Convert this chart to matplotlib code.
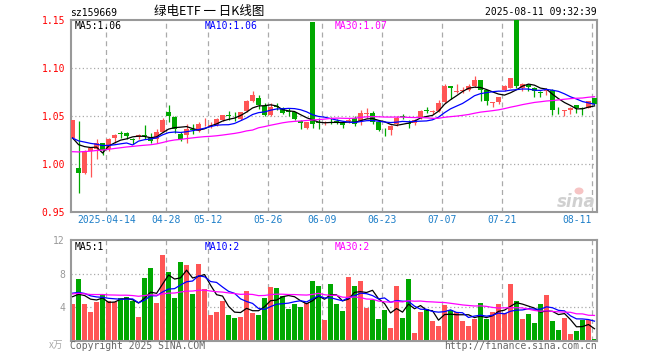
import matplotlib
matplotlib.use('Agg')
import matplotlib.pyplot as plt
from matplotlib.patches import Ellipse
import numpy as np
import pandas as pd

# daily candles 2025-04-03 .. 2025-08-11 (88 trading days)
opens = [1.0267, 0.9961, 0.9909, 1.0135, 1.0160, 1.0215, 1.0160, 1.0267, 1.0319, 1.0319,
         1.0257, 1.0281, 1.0298, 1.0274, 1.0264, 1.0333, 1.0545, 1.0489, 1.0309, 1.0298,
         1.0361, 1.0347, 1.0425, 1.0400, 1.0410, 1.0456, 1.0510, 1.0500, 1.0469, 1.0549,
         1.0653, 1.0687, 1.0608, 1.0514, 1.0600, 1.0583, 1.0550, 1.0538, 1.0451, 1.0375,
         1.1475, 1.0435, 1.0428, 1.0450, 1.0445, 1.0440, 1.0445, 1.0478, 1.0443, 1.0520,
         1.0530, 1.0433, 1.0357, 1.0357, 1.0419, 1.0498, 1.0425, 1.0425, 1.0478, 1.0560,
         1.0545, 1.0555, 1.0645, 1.0809, 1.0755, 1.0760, 1.0774, 1.0808, 1.0871, 1.0767,
         1.0640, 1.0642, 1.0770, 1.0792, 1.1500, 1.0792, 1.0823, 1.0795, 1.0754, 1.0760,
         1.0775, 1.0575, 1.0552, 1.0567, 1.0612, 1.0588, 1.0588, 1.0689]
highs = [1.0460, 1.0451, 1.0145, 1.0165, 1.0257, 1.0218, 1.0268, 1.0316, 1.0344, 1.0330,
         1.0274, 1.0312, 1.0403, 1.0320, 1.0361, 1.0478, 1.0617, 1.0495, 1.0330, 1.0413,
         1.0413, 1.0441, 1.0479, 1.0440, 1.0475, 1.0510, 1.0550, 1.0545, 1.0545, 1.0670,
         1.0764, 1.0722, 1.0635, 1.0635, 1.0635, 1.0590, 1.0583, 1.0545, 1.0455, 1.0440,
         1.1475, 1.0478, 1.0450, 1.0490, 1.0470, 1.0445, 1.0480, 1.0495, 1.0565, 1.0582,
         1.0547, 1.0440, 1.0375, 1.0410, 1.0495, 1.0520, 1.0455, 1.0470, 1.0560, 1.0590,
         1.0565, 1.0668, 1.0830, 1.0815, 1.0838, 1.0800, 1.0830, 1.0913, 1.0875, 1.0770,
         1.0650, 1.0700, 1.0825, 1.0900, 1.1500, 1.0845, 1.0830, 1.0800, 1.0760, 1.0790,
         1.0780, 1.0590, 1.0560, 1.0590, 1.0612, 1.0590, 1.0660, 1.0692]
lows = [1.0260, 0.9694, 0.9895, 0.9860, 1.0049, 1.0097, 1.0140, 1.0222, 1.0274, 1.0257,
        1.0205, 1.0257, 1.0257, 1.0222, 1.0222, 1.0330, 1.0441, 1.0320, 1.0240, 1.0222,
        1.0309, 1.0330, 1.0392, 1.0370, 1.0400, 1.0450, 1.0460, 1.0450, 1.0460, 1.0540,
        1.0650, 1.0576, 1.0497, 1.0500, 1.0565, 1.0520, 1.0503, 1.0462, 1.0365, 1.0365,
        1.0375, 1.0363, 1.0410, 1.0420, 1.0420, 1.0380, 1.0430, 1.0400, 1.0410, 1.0480,
        1.0420, 1.0340, 1.0288, 1.0300, 1.0400, 1.0465, 1.0375, 1.0410, 1.0470, 1.0530,
        1.0520, 1.0545, 1.0640, 1.0677, 1.0740, 1.0740, 1.0760, 1.0800, 1.0652, 1.0617,
        1.0590, 1.0620, 1.0765, 1.0790, 1.0790, 1.0760, 1.0760, 1.0700, 1.0700, 1.0720,
        1.0512, 1.0525, 1.0505, 1.0525, 1.0536, 1.0515, 1.0585, 1.0610]
closes = [1.0454, 0.9902, 1.0139, 1.0163, 1.0222, 1.0146, 1.0264, 1.0302, 1.0309, 1.0288,
          1.0250, 1.0302, 1.0288, 1.0240, 1.0333, 1.0461, 1.0496, 1.0364, 1.0264, 1.0364,
          1.0357, 1.0417, 1.0432, 1.0410, 1.0472, 1.0507, 1.0505, 1.0497, 1.0542, 1.0653,
          1.0722, 1.0611, 1.0507, 1.0590, 1.0595, 1.0531, 1.0545, 1.0472, 1.0427, 1.0437,
          1.0417, 1.0430, 1.0435, 1.0445, 1.0440, 1.0410, 1.0455, 1.0419, 1.0530, 1.0530,
          1.0436, 1.0357, 1.0350, 1.0392, 1.0478, 1.0492, 1.0418, 1.0455, 1.0555, 1.0555,
          1.0550, 1.0635, 1.0815, 1.0792, 1.0762, 1.0768, 1.0808, 1.0871, 1.0774, 1.0659,
          1.0645, 1.0694, 1.0816, 1.0895, 1.0816, 1.0836, 1.0798, 1.0760, 1.0742, 1.0765,
          1.0567, 1.0570, 1.0558, 1.0588, 1.0588, 1.0570, 1.0658, 1.0620]
volumes = [4.42, 7.37, 4.42, 3.43, 4.62, 5.58, 4.78, 4.62, 5.06, 5.22,
           4.70, 2.83, 7.49, 8.69, 4.50, 10.24, 8.21, 5.10, 9.40, 9.08,
           5.58, 9.16, 6.18, 3.07, 3.43, 4.74, 3.07, 2.71, 2.83, 5.94,
           3.31, 3.07, 5.10, 6.41, 6.29, 5.34, 3.78, 4.38, 4.02, 4.50,
           7.13, 6.57, 2.47, 6.77, 4.38, 3.55, 7.61, 6.53, 7.13, 3.90,
           4.86, 2.59, 3.67, 1.51, 6.53, 2.71, 7.37, 0.92, 3.43, 3.78,
           2.35, 1.75, 4.26, 3.67, 3.43, 2.35, 1.75, 2.59, 4.50, 2.59,
           3.43, 4.38, 3.31, 6.77, 4.74, 2.59, 3.19, 2.11, 4.38, 5.46,
           2.35, 1.27, 2.71, 0.80, 1.16, 2.47, 2.50, 0.20]

# sessions before the window, only used to seed the moving averages
prior_closes = [0.998, 1.001, 1.004, 1.002, 0.999, 1.003, 1.006, 1.008, 1.005, 1.007,
                1.010, 1.012, 1.009, 1.006, 1.004, 1.002, 1.005, 1.008, 1.011, 1.014,
                1.020, 1.026, 1.030, 1.031, 1.028, 1.025, 1.024, 1.021, 1.020]
prior_volumes = [5.2, 6.1, 5.8, 4.9, 5.4, 6.3, 5.0, 5.7, 5.1, 6.0,
                 5.5, 4.8, 5.9, 6.2, 5.3, 5.6, 4.7, 5.8, 6.1, 5.1,
                 6.4, 5.7, 6.3, 5.9, 6.1, 5.9, 5.2, 5.6, 5.1]

holidays = ['2025-04-04', '2025-05-01', '2025-05-02', '2025-05-05', '2025-06-02']
tick_dates = ['2025-04-14', '2025-04-28', '2025-05-12', '2025-05-26', '2025-06-09',
              '2025-06-23', '2025-07-07', '2025-07-21', '2025-08-11']
price_ticks = [0.95, 1.00, 1.05, 1.10, 1.15]
vol_ticks = [4, 8, 12]

RED = '#ff5555'
GREEN = '#00a800'
FRAME = '#999999'
GRID = '#aaaaaa'
W, H = 660, 360

dates = pd.bdate_range('2025-04-03', '2025-08-11')
dates = dates[~dates.isin(pd.to_datetime(holidays))]
n = len(opens)
x = np.arange(n)

o = np.array(opens); h = np.array(highs); l = np.array(lows); c = np.array(closes)
v = np.array(volumes)
up = c >= o
cols = np.where(up, RED, GREEN)


def ma(series, prior, k):
    s = pd.Series(list(prior) + list(series)).rolling(k).mean()
    return s.values[len(prior):]


fig = plt.figure(figsize=(W / 100, H / 100), dpi=100)


def px_axes(left, top, right, bottom):
    return fig.add_axes([left / W, 1 - bottom / H, (right - left) / W, (bottom - top) / H])


def ftext(px, py, s, **kw):
    fig.text(px / W, 1 - py / H, s, **kw)


mono = 'DejaVu Sans Mono'
ax = px_axes(70.5, 20, 597, 212)
axv = px_axes(70.5, 240, 597, 340.7)

xlim = (-0.35, n - 0.58)
tick_idx = [int(np.where(dates == pd.Timestamp(d))[0][0]) for d in tick_dates]

for a in (ax, axv):
    a.set_xlim(*xlim)
    for s in a.spines.values():
        s.set_color(FRAME)
        s.set_linewidth(1.5)
    for i in tick_idx:
        a.axvline(i - 0.4, color=GRID, lw=0.9, ls=(0, (4, 3)), zorder=0)
    a.tick_params(length=0)

# price panel
ax.set_ylim(0.95, 1.15)
for p in price_ticks[1:-1]:
    ax.axhline(p, color=GRID, lw=0.9, ls=(0, (1, 2)), zorder=0)
ax.vlines(x, l, h, colors=cols, lw=0.9, zorder=2)
body = np.maximum(np.abs(c - o), 0.0007)
ax.bar(x, body, bottom=np.minimum(o, c), width=0.8, color=cols, lw=0, zorder=3)
ax.plot(x, ma(c, prior_closes, 5), color='black', lw=0.9, zorder=4)
ax.plot(x, ma(c, prior_closes, 10), color='#0000ff', lw=0.9, zorder=4)
ax.plot(x, ma(c, prior_closes, 30), color='#ff00ff', lw=0.9, zorder=4)
ax.set_yticks(price_ticks)
ax.set_yticklabels(['%.2f' % p for p in price_ticks], color='red', fontsize=7, family=mono)
ax.tick_params(axis='y', pad=4)
ax.set_xticks([i - 0.4 for i in tick_idx])
xl = [dates[tick_idx[0]].strftime('%Y-%m-%d')] + [dates[i].strftime('%m-%d') for i in tick_idx[1:]]
ax.set_xticklabels(xl, color='#1e7fc8', fontsize=7, family=mono)
ax.tick_params(axis='x', pad=2)
ax.get_xticklabels()[-1].set_ha('right')

# volume panel
axv.set_ylim(0, 12)
for p in vol_ticks[:-1]:
    axv.axhline(p, color=GRID, lw=0.9, ls=(0, (1, 2)), zorder=0)
axv.bar(x, v, width=0.8, color=cols, lw=0, zorder=2)
axv.plot(x, ma(v, prior_volumes, 5), color='black', lw=0.9, zorder=4)
axv.plot(x, ma(v, prior_volumes, 10), color='#0000ff', lw=0.9, zorder=4)
axv.plot(x, ma(v, prior_volumes, 30), color='#ff00ff', lw=0.9, zorder=4)
axv.set_yticks(vol_ticks)
axv.set_yticklabels([str(t) for t in vol_ticks], color='#999999', fontsize=7, family=mono)
axv.tick_params(axis='y', pad=4)
axv.set_xticks([])

# header and labels
ftext(70, 13, 'sz159669', fontsize=7, family=mono, va='center')
ftext(209, 12, '绿电ETF 一 日K线图', fontsize=9, family=['Noto Sans CJK SC', 'DejaVu Sans'],
      ha='center', va='center')
ftext(597, 12, '2025-08-11 09:32:39', fontsize=7, family=mono, ha='right', va='center')
ftext(75, 26, 'MA5:1.06', fontsize=7, family=mono, va='center', color='black')
ftext(205, 26, 'MA10:1.06', fontsize=7, family=mono, va='center', color='#0000ff')
ftext(335, 26, 'MA30:1.07', fontsize=7, family=mono, va='center', color='#ff00ff')
ftext(75, 247, 'MA5:1', fontsize=7, family=mono, va='center', color='black')
ftext(205, 247, 'MA10:2', fontsize=7, family=mono, va='center', color='#0000ff')
ftext(335, 247, 'MA30:2', fontsize=7, family=mono, va='center', color='#ff00ff')
ftext(63, 345, 'x万', fontsize=7, family=['Noto Sans CJK SC', 'DejaVu Sans'], ha='right',
      va='center', color='#aaaaaa', style='italic')
ftext(70, 346, 'Copyright 2025 SINA.COM', fontsize=7, family=mono, va='center', color='#666666')
ftext(597, 346, 'http://finance.sina.com.cn', fontsize=7, family=mono, ha='right', va='center',
      color='#666666')
ftext(576, 202, 'sina', fontsize=12, style='italic', weight='bold', color='#d0d0d0',
      ha='center', va='center')
fig.patches.append(Ellipse((579 / W, 1 - 191 / H), 9 / W, 7 / H, transform=fig.transFigure,
                           facecolor='#f6c4c4', edgecolor='none', zorder=5))

fig.savefig('out.png', dpi=100)
